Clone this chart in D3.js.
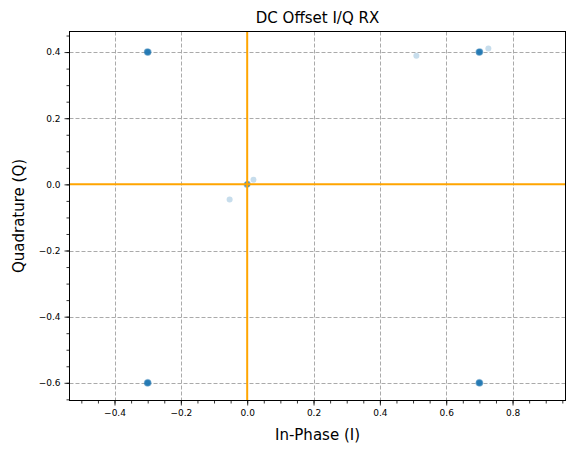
<!DOCTYPE html>
<html><head><meta charset="utf-8">
<script src="https://cdn.jsdelivr.net/npm/d3@7"></script>
<style>body{margin:0;background:#fff}svg{display:block}text{font-family:"DejaVu Sans",sans-serif}</style>
</head><body><div id="chart"></div>
<script>
// Received I/Q samples (clusters at the 4 constellation points, DC at origin, a few outliers)
const iValues = [
  -0.300,-0.302,-0.298,-0.301,-0.299,-0.303,-0.297,-0.300,-0.301,-0.299,-0.302,-0.298,
   0.700, 0.702, 0.698, 0.701, 0.699, 0.703, 0.697, 0.700, 0.701, 0.699, 0.702, 0.698,
  -0.300,-0.302,-0.298,-0.301,-0.299,-0.303,-0.297,-0.300,-0.301,-0.299,-0.302,-0.298,
   0.700, 0.702, 0.698, 0.701, 0.699, 0.703, 0.697, 0.700, 0.701, 0.699, 0.702, 0.698,
   0.000, 0.002,-0.002, 0.001,-0.001, 0.000,
   0.510, 0.727, 0.019,-0.053
];
const qValues = [
   0.400, 0.401, 0.399, 0.402, 0.398, 0.400, 0.401, 0.397, 0.403, 0.400, 0.399, 0.401,
   0.400, 0.401, 0.399, 0.402, 0.398, 0.400, 0.401, 0.397, 0.403, 0.400, 0.399, 0.401,
  -0.600,-0.601,-0.599,-0.602,-0.598,-0.600,-0.601,-0.597,-0.603,-0.600,-0.599,-0.601,
  -0.600,-0.601,-0.599,-0.602,-0.598,-0.600,-0.601,-0.597,-0.603,-0.600,-0.599,-0.601,
   0.000, 0.001,-0.001, 0.002,-0.002, 0.000,
   0.389, 0.411, 0.014,-0.046
];
const xTicks = [-0.4,-0.2,0.0,0.2,0.4,0.6,0.8];
const yTicks = [-0.6,-0.4,-0.2,0.0,0.2,0.4];
const xDomain = [-0.5357, 0.9596];
const yDomain = [-0.6535, 0.4622];
const titleText = "DC Offset I/Q RX";
const xLabel = "In-Phase (I)";
const yLabel = "Quadrature (Q)";

const W = 575, H = 454;
const L = 69.5, R = 565.5, T = 31.5, B = 400.5;
const svg = d3.select("#chart").append("svg").attr("width", W).attr("height", H);
const x = d3.scaleLinear().domain(xDomain).range([L, R]);
const y = d3.scaleLinear().domain(yDomain).range([B, T]);
const fmt = v => (v < 0 ? "\u2212" : "") + Math.abs(v).toFixed(1);

// grid
const grid = svg.append("g").attr("stroke", "#aaaaaa").attr("stroke-width", 1).attr("stroke-dasharray", "4,2");
grid.selectAll(".gx").data(xTicks).join("line").attr("x1", d => Math.round(x(d)) + 0.5).attr("x2", d => Math.round(x(d)) + 0.5).attr("y1", T).attr("y2", B);
grid.selectAll(".gy").data(yTicks).join("line").attr("y1", d => Math.round(y(d)) + 0.5).attr("y2", d => Math.round(y(d)) + 0.5).attr("x1", L).attr("x2", R);

// points
const pts = d3.range(iValues.length).map(k => [iValues[k], qValues[k]]);
svg.append("g").selectAll("circle").data(pts).join("circle")
  .attr("cx", d => x(d[0])).attr("cy", d => y(d[1])).attr("r", 3)
  .attr("fill", "#1f77b4").attr("fill-opacity", 0.25);

// orange zero lines
svg.append("line").attr("x1", L).attr("x2", R).attr("y1", y(0)).attr("y2", y(0)).attr("stroke", "orange").attr("stroke-width", 2);
svg.append("line").attr("y1", T).attr("y2", B).attr("x1", x(0)).attr("x2", x(0)).attr("stroke", "orange").attr("stroke-width", 2);

// axes
const xAxis = d3.axisBottom(x).tickValues(xTicks).tickFormat(fmt).tickSize(5).tickPadding(4);
const xMinor = d3.axisBottom(x).tickValues(d3.range(-10, 20).map(k => k * 0.05).filter(v => v >= xDomain[0] && v <= xDomain[1])).tickFormat("").tickSize(3);
const yAxis = d3.axisLeft(y).tickValues(yTicks).tickFormat(fmt).tickSize(5).tickPadding(4);
const yMinor = d3.axisLeft(y).tickValues(d3.range(-13, 10).map(k => k * 0.05).filter(v => v >= yDomain[0] && v <= yDomain[1])).tickFormat("").tickSize(3);
[[xAxis, "b"], [xMinor, "b"], [yAxis, "l"], [yMinor, "l"]].forEach(([ax, s]) => {
  const g = svg.append("g").attr("transform", s === "b" ? `translate(0,${B})` : `translate(${L},0)`).call(ax);
  g.select(".domain").remove();
  g.selectAll("line").attr("stroke", "#000").attr("stroke-width", 0.8);
  g.selectAll("text").attr("font-size", 9).attr("fill", "#000").attr("font-family", "DejaVu Sans");
});

// frame
svg.append("rect").attr("x", L).attr("y", T).attr("width", R - L).attr("height", B - T)
  .attr("fill", "none").attr("stroke", "#000").attr("stroke-width", 1);

// labels
svg.append("text").attr("x", (L + R) / 2).attr("y", 23).attr("text-anchor", "middle").attr("font-size", 15).text(titleText);
svg.append("text").attr("x", (L + R) / 2).attr("y", 440).attr("text-anchor", "middle").attr("font-size", 15).text(xLabel);
svg.append("text").attr("transform", `translate(24,${(T + B) / 2}) rotate(-90)`).attr("text-anchor", "middle").attr("font-size", 15).text(yLabel);
</script></body></html>
